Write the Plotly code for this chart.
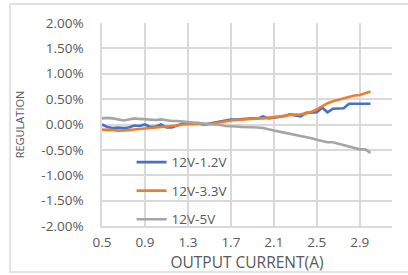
import plotly.graph_objects as go

current = [0.5, 0.55, 0.6, 0.65, 0.7, 0.75, 0.8, 0.85, 0.9, 0.95,
           1.0, 1.05, 1.1, 1.15, 1.2, 1.25, 1.3, 1.35, 1.4, 1.45,
           1.5, 1.55, 1.6, 1.65, 1.7, 1.75, 1.8, 1.85, 1.9, 1.95,
           2.0, 2.05, 2.1, 2.15, 2.2, 2.25, 2.3, 2.35, 2.4, 2.45,
           2.5, 2.55, 2.6, 2.65, 2.7, 2.75, 2.8, 2.85, 2.9, 2.95, 3.0]

reg_12v_1v2 = [0.00, -0.05, -0.07, -0.06, -0.07, -0.06, -0.02, -0.03, 0.00, -0.05,
               -0.04, 0.00, -0.06, -0.06, -0.02, 0.02, 0.02, 0.02, 0.03, 0.00,
               0.02, 0.03, 0.05, 0.08, 0.10, 0.10, 0.11, 0.11, 0.12, 0.12,
               0.16, 0.12, 0.13, 0.15, 0.17, 0.20, 0.18, 0.16, 0.23, 0.23,
               0.24, 0.33, 0.24, 0.31, 0.31, 0.32, 0.41, 0.41, 0.41, 0.41, 0.41]

reg_12v_3v3 = [-0.10, -0.10, -0.11, -0.12, -0.12, -0.11, -0.10, -0.09, -0.08, -0.08,
               -0.07, -0.06, -0.05, -0.04, -0.02, 0.00, 0.01, 0.01, 0.02, -0.01,
               0.01, 0.03, 0.05, 0.07, 0.08, 0.09, 0.10, 0.10, 0.11, 0.12,
               0.12, 0.13, 0.14, 0.16, 0.17, 0.19, 0.19, 0.20, 0.22, 0.25,
               0.30, 0.36, 0.42, 0.46, 0.49, 0.51, 0.54, 0.57, 0.58, 0.61, 0.65]

reg_12v_5v = [0.12, 0.13, 0.12, 0.10, 0.08, 0.10, 0.12, 0.11, 0.10, 0.10,
              0.09, 0.10, 0.08, 0.07, 0.07, 0.06, 0.05, 0.04, 0.03, 0.02,
              0.01, 0.01, -0.01, -0.03, -0.03, -0.04, -0.05, -0.05, -0.06, -0.06,
              -0.07, -0.10, -0.12, -0.14, -0.16, -0.18, -0.21, -0.23, -0.25, -0.27,
              -0.30, -0.33, -0.35, -0.35, -0.38, -0.41, -0.44, -0.47, -0.49, -0.49, -0.56]

series_names = ["12V-1.2V", "12V-3.3V", "12V-5V"]
series_colors = ["#4472C4", "#ED7D31", "#A5A5A5"]

x_tick_vals = [0.5, 0.9, 1.3, 1.7, 2.1, 2.5, 2.9]
x_tick_text = ["0.5", "0.9", "1.3", "1.7", "2.1", "2.5", "2.9"]
y_tick_vals = [2.0, 1.5, 1.0, 0.5, 0.0, -0.5, -1.0, -1.5, -2.0]
y_tick_text = ["2.00%", "1.50%", "1.00%", "0.50%", "0.00%", "-0.50%", "-1.00%", "-1.50%", "-2.00%"]

FONT = "Open Sans"
TXT = "#595959"
GRID = "#D9D9D9"

fig = go.Figure()
for name, ys, col in zip(series_names, [reg_12v_1v2, reg_12v_3v3, reg_12v_5v], series_colors):
    fig.add_trace(go.Scatter(x=current, y=ys, mode="lines", name=name,
                             legendgroup=name,
                             line=dict(color=col, width=2.6)))

fig.update_layout(
    width=408, height=275,
    margin=dict(l=102, r=16, t=23, b=49),
    paper_bgcolor="white", plot_bgcolor="white",
    font=dict(family=FONT, color=TXT, size=13),
    showlegend=True,
    legend=dict(x=0.102, y=0.39, xanchor="left", yanchor="top",
                bgcolor="rgba(0,0,0,0)", tracegroupgap=8,
                font=dict(family=FONT, size=13.5, color=TXT)),
    shapes=[dict(type="rect", xref="paper", yref="paper",
                 x0=-0.317, x1=1.062, y0=-0.2266, y1=1.0936,
                 line=dict(color=GRID, width=1.5), fillcolor="rgba(0,0,0,0)", layer="below")],
)

fig.update_xaxes(range=[0.5, 3.2], tickvals=x_tick_vals, ticktext=x_tick_text,
                 automargin=False,
                 showgrid=True, gridcolor=GRID, gridwidth=1.5,
                 showline=True, linecolor=GRID, linewidth=1.5,
                 zeroline=False, ticks="outside", ticklen=3, tickcolor="rgba(0,0,0,0)",
                 tickfont=dict(size=13.5),
                 title=dict(text="OUTPUT CURRENT(A)", font=dict(size=15.5, color=TXT), standoff=0))
fig.update_yaxes(range=[-2.0, 2.0], tickvals=y_tick_vals, ticktext=y_tick_text,
                 automargin=False,
                 showgrid=True, gridcolor=GRID, gridwidth=1.5,
                 showline=True, linecolor=GRID, linewidth=1.5,
                 zeroline=False, ticks="outside", ticklen=14, tickcolor="rgba(0,0,0,0)",
                 tickfont=dict(size=13.5),
                 title=dict(text="REGULATION", font=dict(size=11, color=TXT), standoff=14))

fig.write_html("out.html", config={"displayModeBar": False},
               post_script="document.body.style.margin='0px';")
